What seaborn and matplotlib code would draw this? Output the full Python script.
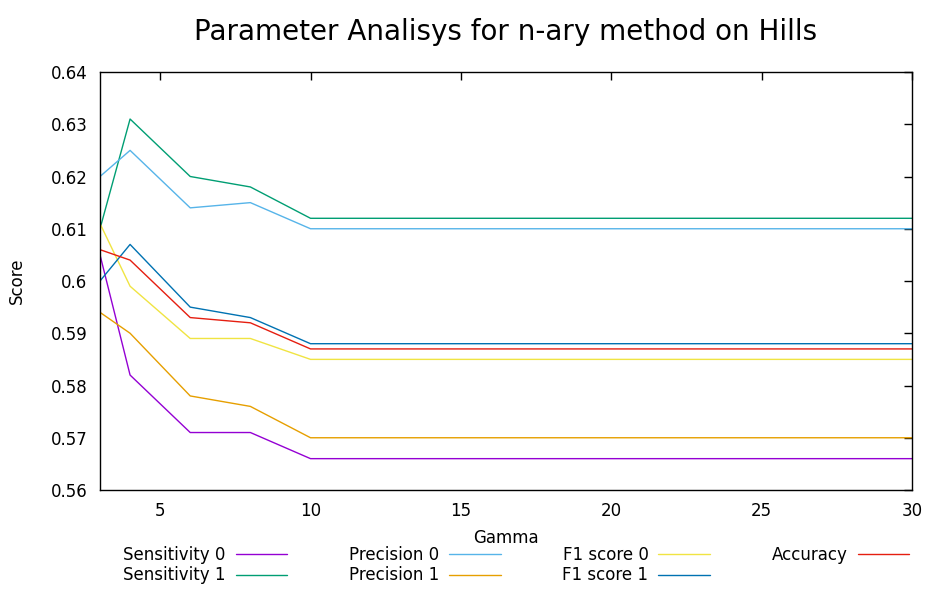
import numpy as np
import pandas as pd
import matplotlib
matplotlib.use("Agg")
import matplotlib.pyplot as plt
import seaborn as sns
from matplotlib.lines import Line2D

gamma = [3, 4, 6, 8, 10, 15, 20, 25, 30]
sensitivity0 = [0.605, 0.582, 0.571, 0.571, 0.566, 0.566, 0.566, 0.566, 0.566]
sensitivity1 = [0.610, 0.631, 0.620, 0.618, 0.612, 0.612, 0.612, 0.612, 0.612]
precision0 = [0.620, 0.625, 0.614, 0.615, 0.610, 0.610, 0.610, 0.610, 0.610]
precision1 = [0.594, 0.590, 0.578, 0.576, 0.570, 0.570, 0.570, 0.570, 0.570]
f1score0 = [0.611, 0.599, 0.589, 0.589, 0.585, 0.585, 0.585, 0.585, 0.585]
f1score1 = [0.600, 0.607, 0.595, 0.593, 0.588, 0.588, 0.588, 0.588, 0.588]
accuracy = [0.606, 0.604, 0.593, 0.592, 0.587, 0.587, 0.587, 0.587, 0.587]

series_names = ["Sensitivity 0", "Sensitivity 1", "Precision 0", "Precision 1",
                "F1 score 0", "F1 score 1", "Accuracy"]
series_values = [sensitivity0, sensitivity1, precision0, precision1,
                 f1score0, f1score1, accuracy]
colors = ["#9400d3", "#009e73", "#56b4e9", "#e69f00", "#f0e442", "#0072b2", "#e51e10"]

x_ticks = [5, 10, 15, 20, 25, 30]
y_ticks = [0.56, 0.57, 0.58, 0.59, 0.60, 0.61, 0.62, 0.63, 0.64]
y_tick_labels = ["0.56", "0.57", "0.58", "0.59", "0.6", "0.61", "0.62", "0.63", "0.64"]

rows = []
for name, vals in zip(series_names, series_values):
    for g, v in zip(gamma, vals):
        rows.append({"Gamma": g, "Score": v, "Series": name})
df = pd.DataFrame(rows)

sns.set_theme(style="white")
plt.rcParams['font.family'] = ['DejaVu Sans']
plt.rcParams['text.color'] = 'black'
plt.rcParams['axes.labelcolor'] = 'black'

fig = plt.figure(figsize=(9.44, 5.90), dpi=100)
ax = fig.add_axes([100/944, 1-490/590, (912-100)/944, (490-72)/590])

sns.lineplot(data=df, x="Gamma", y="Score", hue="Series", hue_order=series_names,
             palette=colors, linewidth=1.0, ax=ax, legend=False)

ax.set_xlim(3, 30)
ax.set_ylim(0.56, 0.64)
ax.set_xticks(x_ticks)
ax.set_yticks(y_ticks)
ax.set_yticklabels(y_tick_labels)
ax.tick_params(direction="in", length=6, width=1, top=True, right=True,
               labelsize=12, colors="black", labelcolor="black", pad=9)
for sp in ax.spines.values():
    sp.set_color("black")
    sp.set_linewidth(1.0)
ax.set_xlabel("Gamma", fontsize=12, labelpad=6, color="black")
ax.set_ylabel("Score", fontsize=12, labelpad=18, color="black")

fig.text(506/944, 1-32/590, "Parameter Analisys for n-ary method on Hills",
         ha="center", va="center", fontsize=20, color="black")

handles = [Line2D([0], [0], color=c, lw=1.0) for c in colors]
fig.legend(handles, series_names, loc="lower left", bbox_to_anchor=(108/944, -0.016),
           ncol=4, frameon=False, markerfirst=False, fontsize=12,
           handlelength=3.1, columnspacing=3.7, handletextpad=0.6, labelspacing=0.15,
           labelcolor="black")

fig.savefig("out.png", dpi=100)
